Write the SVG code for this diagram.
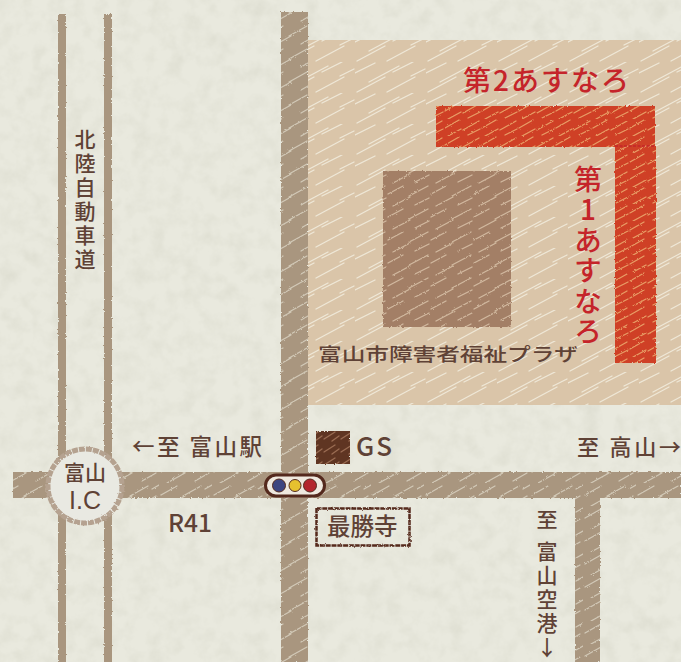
<svg xmlns="http://www.w3.org/2000/svg" width="681" height="662" viewBox="0 0 681 662">
<defs>
<pattern id="hr" width="53" height="23" patternUnits="userSpaceOnUse">
<g stroke="#dcd6c6" stroke-width="1.2" stroke-linecap="round" fill="none" opacity=".8">
<path d="M2 12L18 3M24 13L42 3M46 6L53 2M8 23L26 13M36 21L50 13"/>
</g>
</pattern>
<pattern id="hb" width="43" height="23" patternUnits="userSpaceOnUse">
<g stroke="#d6bfa6" stroke-width="1.3" stroke-linecap="round" fill="none" opacity=".9">
<path d="M1 10L16 2M22 12L41 2M6 22L23 13M28 21L42 14"/>
</g>
</pattern>
<pattern id="hp" width="71" height="31" patternUnits="userSpaceOnUse">
<g stroke="#f1ebdc" stroke-width="1.3" stroke-linecap="round" fill="none" opacity=".9">
<path d="M0 11L20 1M14 20L44 4M38 10L58 0M56 14L70 7M2 30L30 15M32 30L60 15"/>
</g>
</pattern>
<pattern id="hred" width="37" height="17" patternUnits="userSpaceOnUse">
<g stroke="#eaa76c" stroke-width="1.3" stroke-linecap="round" fill="none" opacity=".9">
<path d="M1 9L15 1M19 11L35 2M4 17L17 10M24 16L36 10"/>
</g>
</pattern>
<pattern id="hd" width="17" height="13" patternUnits="userSpaceOnUse">
<path d="M1 10L12 3M9 12L16 7" stroke="#9a6c52" stroke-width="1.3" stroke-linecap="round" fill="none"/>
</pattern>
<filter id="paper" x="0" y="0" width="100%" height="100%">
<feTurbulence type="fractalNoise" baseFrequency=".06" numOctaves="4" seed="4"/>
<feColorMatrix values="0 0 0 0 .55  0 0 0 0 .55  0 0 0 0 .45  .35 .35 0 0 -.3"/>
</filter>
<filter id="rough" x="-5%" y="-5%" width="110%" height="110%">
<feTurbulence type="fractalNoise" baseFrequency=".45" numOctaves="2" seed="7" result="n"/>
<feDisplacementMap in="SourceGraphic" in2="n" scale="2.4"/>
</filter>
</defs>
<style>
text{font-family:"Noto Sans CJK JP","Noto Sans",sans-serif;fill:#5f4236;font-weight:500}
.v{writing-mode:vertical-rl;text-orientation:upright;text-anchor:start}
.red{fill:#c5242a;font-weight:500}
.road{fill:#a9967f}
.hr{fill:url(#hr)}
</style>
<rect width="681" height="662" fill="#e9e9de"/>
<rect width="681" height="662" filter="url(#paper)"/>

<g id="plaza-site"><rect x="308" y="40" width="373" height="365" fill="#dac5a9"/><rect x="308" y="40" width="373" height="365" fill="url(#hp)"/></g>

<g id="connectors" filter="url(#rough)">
<rect class="road" x="58" y="14" width="8" height="648"/>
<rect class="road" x="104" y="14" width="8" height="648"/>
<rect class="road" x="281" y="12" width="27" height="650"/>
<rect class="road" x="575" y="498" width="25" height="164"/>
<rect class="road" x="13" y="472" width="668" height="26"/>
<rect class="hr" x="281" y="12" width="27" height="650"/>
<rect class="hr" x="575" y="498" width="25" height="164"/>
<rect class="hr" x="13" y="472" width="668" height="26"/>
</g>

<g id="welfare-plaza">
<g filter="url(#rough)"><rect x="383" y="171" width="128" height="156" fill="#a37f66"/><rect x="383" y="171" width="128" height="156" fill="url(#hb)"/></g>
<text x="318" y="361" font-size="18.6" textLength="260" lengthAdjust="spacingAndGlyphs">富山市障害者福祉プラザ</text>
</g>

<g id="asunaro-2">
<g filter="url(#rough)"><rect x="436" y="106" width="219" height="41" fill="#cf3f25"/><rect x="436" y="106" width="219" height="41" fill="url(#hred)"/></g>
<text class="red" x="463" y="91" font-size="28" textLength="166" lengthAdjust="spacing">第2あすなろ</text>
</g>

<g id="asunaro-1">
<g filter="url(#rough)"><rect x="615" y="146" width="41" height="217" fill="#cf3f25"/><rect x="615" y="146" width="41" height="217" fill="url(#hred)"/></g>
<path d="M615 146H655" stroke="#c5242a" stroke-width="1.5" stroke-dasharray="3 1.5"/>
<text class="red v" x="588" y="165" font-size="28" letter-spacing="2.5">第1あすなろ</text>
</g>

<g id="expressway-label"><text class="v" x="85" y="129" font-size="21" letter-spacing="3">北陸自動車道</text></g>

<g id="toyama-ic">
<circle cx="85" cy="486" r="37" fill="#e9e9e2" stroke="#b5a290" stroke-width="5" stroke-dasharray="6 1" filter="url(#rough)"/>
<text x="85" y="480" font-size="21" text-anchor="middle">富山</text>
<text x="85" y="509" font-size="25" text-anchor="middle" style="font-family:'Liberation Sans',sans-serif;font-weight:400">I.C</text>
</g>

<g id="signal">
<rect x="265.500" y="475" width="59" height="21" rx="10.500" fill="#efe9df" stroke="#54291d" stroke-width="3"/>
<circle cx="279" cy="485.500" r="6.500" fill="#3d4580" stroke="#54291d"/>
<circle cx="295" cy="485.500" r="6" fill="#e6c12f" stroke="#54291d"/>
<circle cx="310" cy="485.500" r="6.500" fill="#b3252c" stroke="#54291d"/>
</g>

<g id="gs">
<rect x="316" y="431" width="34" height="33" fill="#5f3423" filter="url(#rough)"/>
<rect x="316" y="431" width="34" height="33" fill="url(#hd)"/>
<text x="356" y="456" font-size="26" font-weight="400" letter-spacing="2">GS</text>
</g>

<g id="saishoji">
<rect x="316.500" y="508.500" width="93" height="37" fill="none" stroke="#54291d" stroke-width="2.500" stroke-dasharray="5 .8" filter="url(#rough)"/>
<text x="327" y="535" font-size="23.500" font-weight="700">最勝寺</text>
</g>

<text x="132" y="455" font-size="22.500" xml:space="preserve" textLength="130">←至 富山駅</text>
<text x="168" y="532" font-size="24.500" font-weight="400">R41</text>
<text x="577" y="455" font-size="22" xml:space="preserve" textLength="104">至 高山→</text>
<text class="v" x="547" y="509" font-size="21" letter-spacing="3">至</text>
<text class="v" x="547" y="541" font-size="21" letter-spacing="3">富山空港↓</text>
</svg>
